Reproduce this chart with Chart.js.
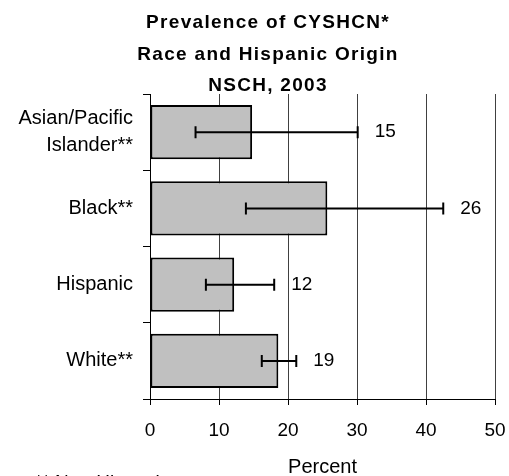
<!DOCTYPE html>
<html>
<head>
<meta charset="utf-8">
<script src="https://cdn.jsdelivr.net/npm/chart.js@4.4.1/dist/chart.umd.min.js"></script>
<style>
  html, body { margin: 0; padding: 0; background: #fff; }
  #wrap { width: 509px; height: 476px; }
</style>
</head>
<body>
<div id="wrap"><canvas id="chart" width="509" height="476"></canvas></div>
<script>
// values
const groups = [["Asian/Pacific", "Islander**"], "Black**", "Hispanic", "White**"];
const prevalence = [14.8, 25.7, 12.2, 18.6];
const ciLow = [6.6, 13.9, 8.1, 16.2];
const ciHigh = [30.1, 42.5, 18.0, 21.2];
const xTicks = [0, 10, 20, 30, 40, 50];
const titleLines = ["Prevalence of CYSHCN*", "Race and Hispanic Origin", "NSCH, 2003"];
const footnote = "** Non-Hispanic";

const FONT = "'Liberation Sans', Arial, sans-serif";

// error bars + value labels
const errorBars = {
  id: "errorBars",
  afterDatasetsDraw(chart) {
    const ctx = chart.ctx;
    const x = chart.scales.x;
    const meta = chart.getDatasetMeta(0);
    ctx.save();
    ctx.strokeStyle = "#000";
    ctx.fillStyle = "#000";
    meta.data.forEach((bar, i) => {
      const y = bar.y;
      const x1 = x.getPixelForValue(ciLow[i]);
      const x2 = x.getPixelForValue(ciHigh[i]);
      ctx.lineWidth = 2;
      ctx.beginPath();
      ctx.moveTo(x1, y);
      ctx.lineTo(x2, y);
      ctx.moveTo(x1, y - 6);
      ctx.lineTo(x1, y + 6);
      ctx.moveTo(x2, y - 6);
      ctx.lineTo(x2, y + 6);
      ctx.stroke();
      ctx.font = "19px " + FONT;
      ctx.textAlign = "left";
      ctx.textBaseline = "middle";
      ctx.fillText(String(Math.round(prevalence[i])), x2 + 17, y);
    });
    ctx.restore();
  }
};

// title lines and the footnote
const textPlugin = {
  id: "texts",
  afterDraw(chart) {
    const ctx = chart.ctx;
    ctx.save();
    ctx.fillStyle = "#000";
    ctx.textAlign = "center";
    ctx.textBaseline = "middle";
    ctx.font = "bold 19px " + FONT;
    if ("letterSpacing" in ctx) ctx.letterSpacing = "1.3px";
    titleLines.forEach((t, i) => {
      ctx.fillText(t, 268, 23 + i * 31.5);
    });
    if ("letterSpacing" in ctx) ctx.letterSpacing = "0px";
    ctx.font = "19px " + FONT;
    ctx.textAlign = "left";
    ctx.textBaseline = "alphabetic";
    ctx.fillText(footnote, 35, 488);
    ctx.restore();
  }
};

new Chart(document.getElementById("chart"), {
  type: "bar",
  data: {
    labels: groups,
    datasets: [{
      data: prevalence,
      backgroundColor: "#c0c0c0",
      borderColor: "#000",
      borderWidth: 2,
      borderSkipped: false,
      barPercentage: 0.71,
      categoryPercentage: 1
    }]
  },
  options: {
    indexAxis: "y",
    responsive: false,
    animation: false,
    layout: { padding: { left: 0, right: 14, top: 94, bottom: 0 } },
    plugins: {
      legend: { display: false },
      title: { display: false },
      tooltip: { enabled: false }
    },
    scales: {
      x: {
        min: 0,
        max: 50,
        afterBuildTicks: (s) => { s.ticks = xTicks.map((v) => ({ value: v })); },
        afterFit: (s) => { s.height = 77; s.paddingLeft = 0; s.paddingRight = 0; },
        grid: { color: "#404040", lineWidth: 1, tickLength: 6, tickColor: "#000" },
        border: { color: "#000", width: 1 },
        ticks: { color: "#000", font: { family: FONT, size: 19 }, padding: 14, maxRotation: 0 },
        title: {
          display: true,
          text: "Percent",
          color: "#000",
          font: { family: FONT, size: 20 },
          padding: { top: 0, bottom: -3 }
        }
      },
      y: {
        afterFit: (s) => { s.width = 150; },
        grid: { drawOnChartArea: false, color: "#000", tickLength: 7, offset: true },
        border: { color: "#000", width: 1 },
        ticks: { color: "#000", font: { family: FONT, size: 20, lineHeight: 1.35 }, padding: 10 }
      }
    }
  },
  plugins: [errorBars, textPlugin]
});
</script>
</body>
</html>
